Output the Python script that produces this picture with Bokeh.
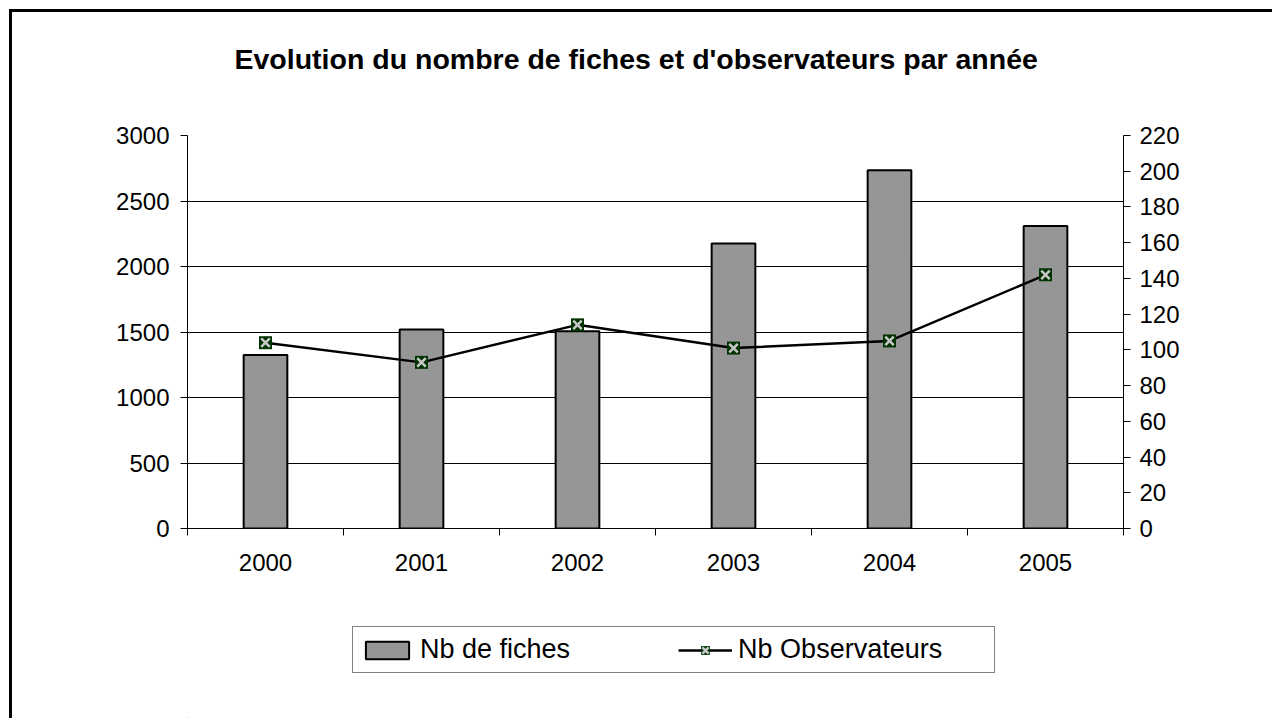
from bokeh.plotting import figure
from bokeh.models import (Range1d, LinearAxis, FixedTicker, Legend, LegendItem, Title)
from bokeh.layouts import column
from bokeh.embed import file_html
from bokeh.resources import INLINE

# ---- data ----
years = ["2000", "2001", "2002", "2003", "2004", "2005"]
nb_fiches = [1325, 1520, 1505, 2175, 2735, 2310]
nb_observateurs = [104, 93, 114, 101, 105, 142]
left_ticks = [0, 500, 1000, 1500, 2000, 2500, 3000]
right_ticks = [0, 20, 40, 60, 80, 100, 120, 140, 160, 180, 200, 220]
title_text = "Evolution du nombre de fiches et d'observateurs par année"
label_fiches = "Nb de fiches"
label_obs = "Nb Observateurs"

FONT = "Liberation Sans"
xs = [i + 0.5 for i in range(len(years))]

BAR_STYLE = dict(fill_color="#969696", line_color="black", line_width=2)
LINE_STYLE = dict(line_color="black", line_width=2.5)
SQ_STYLE = dict(marker="square", size=13, fill_color="#003300", line_color=None)
X_STYLE = dict(marker="x", size=12, line_color="#c8c8c8", line_width=2.5)

p = figure(width=1260, height=588, output_backend="svg", toolbar_location=None,
           x_range=Range1d(0, len(years)), y_range=Range1d(0, 3000),
           min_border_left=175, min_border_right=149,
           min_border_top=123, min_border_bottom=72,
           y_axis_location=None, x_axis_location=None)
p.outline_line_color = None
p.background_fill_color = "white"
p.border_fill_color = "white"

p.title.text = title_text
p.title.text_font = FONT
p.title.text_font_size = "28.5px"
p.title.text_font_style = "bold"
p.title.text_color = "black"
p.title.align = "left"
p.title.offset = 47
p.title.standoff = 0
# spacer between the frame and the title
p.add_layout(Title(text=" ", text_font_size="1px", standoff=58), "above")

p.extra_y_ranges = {"obs": Range1d(0, 220)}

# axes
xaxis = LinearAxis(ticker=FixedTicker(ticks=xs, minor_ticks=list(range(len(years) + 1))))
xaxis.major_label_overrides = {x: y for x, y in zip(xs, years)}
xaxis.major_tick_out = 0
xaxis.major_tick_in = 0
xaxis.minor_tick_out = 7
xaxis.minor_tick_in = 0
xaxis.minor_tick_line_color = "black"
xaxis.major_label_standoff = 18
p.add_layout(xaxis, "below")

yaxis = LinearAxis(ticker=FixedTicker(ticks=left_ticks))
yaxis.major_tick_out = 7
yaxis.major_tick_in = 0
yaxis.minor_tick_line_color = None
yaxis.major_label_standoff = 11
p.add_layout(yaxis, "left")

raxis = LinearAxis(y_range_name="obs", ticker=FixedTicker(ticks=right_ticks))
raxis.major_tick_out = 7
raxis.major_tick_in = 0
raxis.minor_tick_line_color = None
raxis.major_label_standoff = 9
p.add_layout(raxis, "right")

for ax in (xaxis, yaxis, raxis):
    ax.axis_line_color = "black"
    ax.axis_line_width = 1
    ax.major_tick_line_color = "black"
    ax.major_label_text_font = FONT
    ax.major_label_text_font_size = "24px"
    ax.major_label_text_color = "black"

p.xgrid.visible = False
p.ygrid.ticker = FixedTicker(ticks=left_ticks)
p.ygrid.grid_line_color = "black"
p.ygrid.grid_line_width = 1

p.vbar(x=xs, top=nb_fiches, width=0.28, bottom=0, **BAR_STYLE)
p.line(x=xs, y=nb_observateurs, y_range_name="obs", **LINE_STYLE)
p.scatter(x=xs, y=nb_observateurs, y_range_name="obs", **SQ_STYLE)
p.scatter(x=xs, y=nb_observateurs, y_range_name="obs", **X_STYLE)

# ---- legend strip (second figure, same width); proxies sit outside its ranges ----
lf = figure(width=1260, height=118, output_backend="svg", toolbar_location=None,
            x_range=Range1d(0, 1), y_range=Range1d(0, 1),
            min_border_left=0, min_border_right=0, min_border_top=0, min_border_bottom=0,
            x_axis_location=None, y_axis_location=None)
lf.outline_line_color = None
lf.grid.visible = False
lf.border_fill_color = "white"
lb = lf.vbar(x=[-5], top=[-4], bottom=[-5], width=0.1, **BAR_STYLE)
ll = lf.line(x=[-5, -4], y=[-5, -5], **LINE_STYLE)
ls = lf.scatter(x=[-5], y=[-5], **SQ_STYLE)
lx = lf.scatter(x=[-5], y=[-5], **X_STYLE)

legend = Legend(items=[LegendItem(label=label_fiches, renderers=[lb]),
                       LegendItem(label=label_obs + "      ", renderers=[ll, ls, lx])],
                orientation="horizontal", location=(165, 45))
legend.border_line_color = "black"
legend.border_line_width = 1
legend.background_fill_color = "white"
legend.background_fill_alpha = 1
legend.label_text_font = FONT
legend.label_text_font_size = "27px"
legend.label_text_color = "black"
legend.glyph_width = 54
legend.glyph_height = 22
legend.label_standoff = 6
legend.spacing = 108
legend.padding = 7
legend.margin = 0
lf.add_layout(legend, "center")

page = column(p, lf, spacing=0)
page.styles = {"border-top": "3px solid black", "border-left": "3px solid black",
               "margin-left": "9px", "margin-top": "9px"}

open("out.html", "w").write(file_html(page, INLINE))
